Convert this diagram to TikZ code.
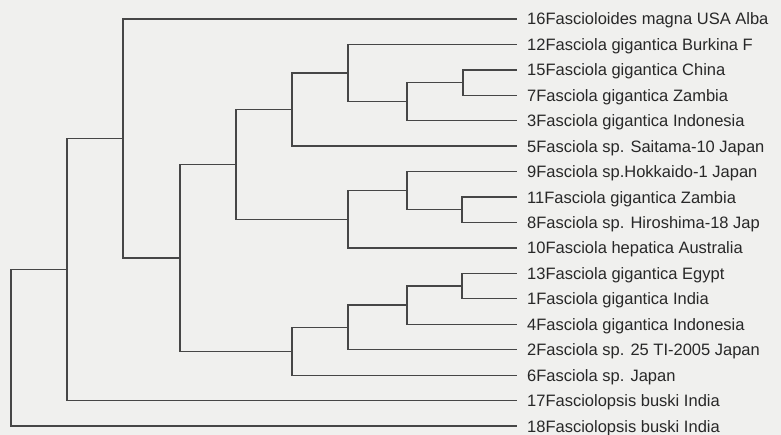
\documentclass[tikz,border=0pt]{standalone}
\usepackage{fontspec}
\setmainfont{Liberation Sans}
\usetikzlibrary{positioning}

\definecolor{paper}{RGB}{240,240,238}
\definecolor{branchcol}{RGB}{70,70,70}
\definecolor{taxoncol}{RGB}{40,40,40}

\tikzset{
	branch/.style={line width=1.4pt, color=branchcol},
	taxon/.style={anchor=west, inner xsep=10pt, inner ysep=0pt, text height=12pt, text depth=0pt, text=taxoncol, font=\fontsize{16.5}{18}\selectfont},
}

\begin{document}
\begin{tikzpicture}[x=1pt, y=-1pt]
			%%%%% START %%%%%
			
			\fill[paper] (0, 0) rectangle (781, 435);
			\useasboundingbox (0, 0) rectangle (781, 435);
			
			% taxa
			\node[taxon] (t16) at (517, 19.0) {16Fascioloides magna USA Alba};
			\node[taxon] (t12) at (517, 44.4) {12Fasciola gigantica Burkina F};
			\node[taxon] (t15) at (517, 69.9) {15Fasciola gigantica China};
			\node[taxon] (t7) at (517, 95.3) {7Fasciola gigantica Zambia};
			\node[taxon] (t3) at (517, 120.8) {3Fasciola gigantica Indonesia};
			\node[taxon] (t5) at (517, 146.2) {5Fasciola sp. Saitama-10 Japan};
			\node[taxon] (t9) at (517, 171.6) {9Fasciola sp.Hokkaido-1 Japan};
			\node[taxon] (t11) at (517, 197.1) {11Fasciola gigantica Zambia};
			\node[taxon] (t8) at (517, 222.5) {8Fasciola sp. Hiroshima-18 Jap};
			\node[taxon] (t10) at (517, 248.0) {10Fasciola hepatica Australia};
			\node[taxon] (t13) at (517, 273.4) {13Fasciola gigantica Egypt};
			\node[taxon] (t1) at (517, 298.8) {1Fasciola gigantica India};
			\node[taxon] (t4) at (517, 324.3) {4Fasciola gigantica Indonesia};
			\node[taxon] (t2) at (517, 349.7) {2Fasciola sp. 25 TI-2005 Japan};
			\node[taxon] (t6) at (517, 375.2) {6Fasciola sp. Japan};
			\node[taxon] (t17) at (517, 400.6) {17Fasciolopsis buski India};
			\node[taxon] (t18) at (517, 426.0) {18Fasciolopsis buski India};
			
			% internal nodes
			\coordinate (root) at (11, 347.75);
			\coordinate (nA) at (67, 269.5);
			\coordinate (nB) at (123, 138.45);
			\coordinate (nC) at (180, 257.9);
			\coordinate (nD) at (236, 164.5);
			\coordinate (nI) at (292, 109.6);
			\coordinate (nM) at (348, 73.05);
			\coordinate (nN) at (407, 101.7);
			\coordinate (nO) at (463, 82.6);
			\coordinate (nJ) at (348, 219.35);
			\coordinate (nK) at (407, 190.7);
			\coordinate (nL) at (462, 209.8);
			\coordinate (nE) at (292, 351.3);
			\coordinate (nF) at (348, 327.45);
			\coordinate (nH) at (407, 305.2);
			\coordinate (nG) at (462, 286.1);
			
			% branches
			\draw[branch] (root) |- (nA);
			\draw[branch] (root) |- (t18.west);
			\draw[branch] (nA) |- (nB);
			\draw[branch] (nA) |- (t17.west);
			\draw[branch] (nB) |- (t16.west);
			\draw[branch] (nB) |- (nC);
			\draw[branch] (nC) |- (nD);
			\draw[branch] (nC) |- (nE);
			
			\draw[branch] (nD) |- (nI);
			\draw[branch] (nD) |- (nJ);
			\draw[branch] (nI) |- (nM);
			\draw[branch] (nI) |- (t5.west);
			\draw[branch] (nM) |- (t12.west);
			\draw[branch] (nM) |- (nN);
			\draw[branch] (nN) |- (nO);
			\draw[branch] (nN) |- (t3.west);
			\draw[branch] (nO) |- (t15.west);
			\draw[branch] (nO) |- (t7.west);
			\draw[branch] (nJ) |- (nK);
			\draw[branch] (nJ) |- (t10.west);
			\draw[branch] (nK) |- (t9.west);
			\draw[branch] (nK) |- (nL);
			\draw[branch] (nL) |- (t11.west);
			\draw[branch] (nL) |- (t8.west);
			
			\draw[branch] (nE) |- (nF);
			\draw[branch] (nE) |- (t6.west);
			\draw[branch] (nF) |- (nH);
			\draw[branch] (nF) |- (t2.west);
			\draw[branch] (nH) |- (nG);
			\draw[branch] (nH) |- (t4.west);
			\draw[branch] (nG) |- (t13.west);
			\draw[branch] (nG) |- (t1.west);
			
			%%%%% END %%%%%
\end{tikzpicture}
\end{document}
